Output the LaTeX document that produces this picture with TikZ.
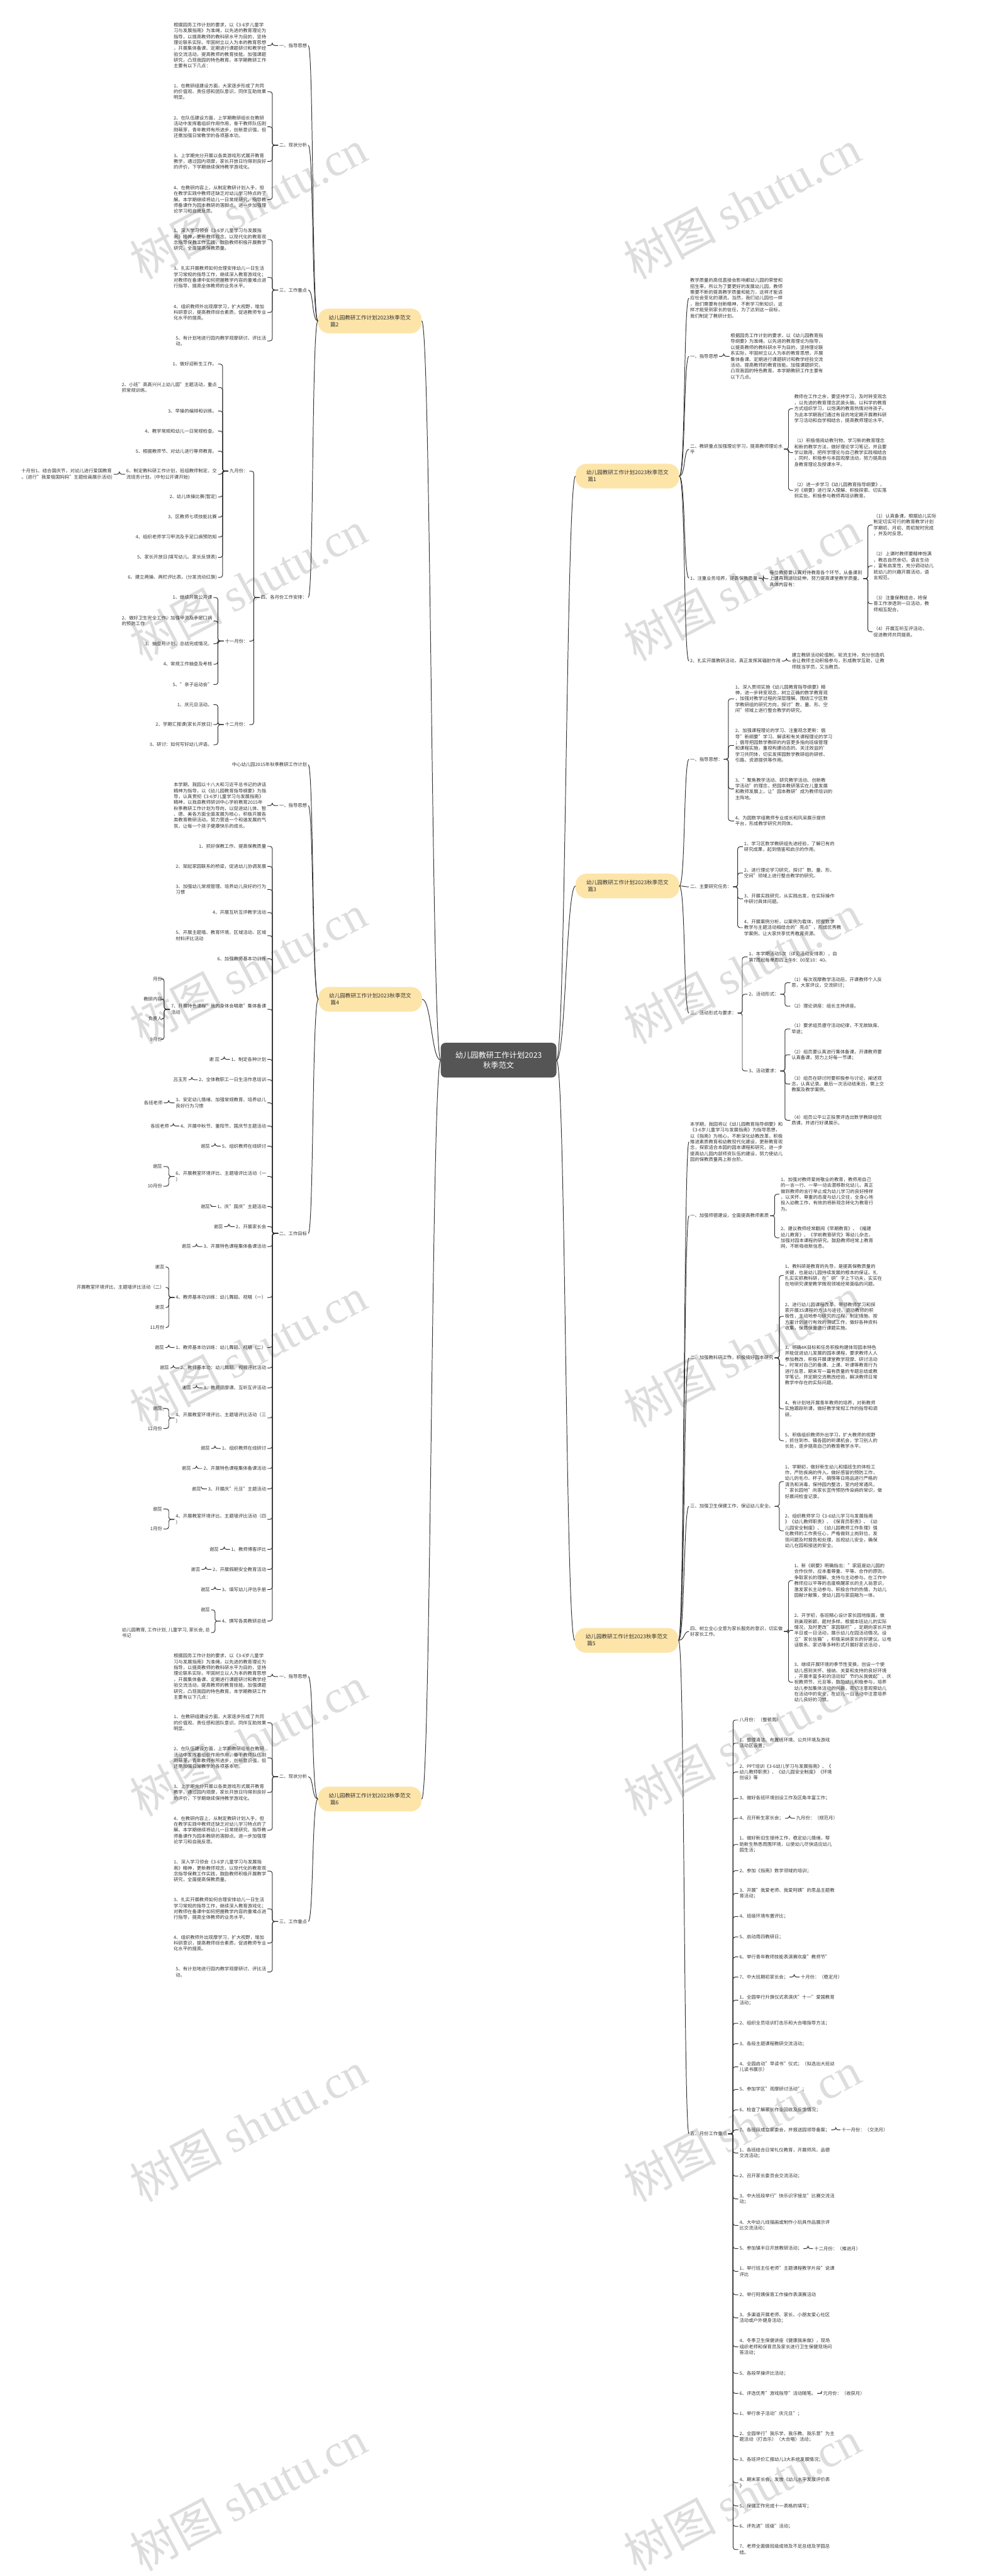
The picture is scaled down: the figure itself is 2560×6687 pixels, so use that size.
\documentclass[tikz,border=0pt]{standalone}
\usepackage{fontspec}
\setmainfont{Noto Sans CJK SC}
\newfontfamily\wmlat{Liberation Serif}
\usetikzlibrary{calc}
\definecolor{lc}{HTML}{333333}
\definecolor{tc}{HTML}{333333}
\definecolor{bf}{HTML}{FDE5AA}
\definecolor{rf}{HTML}{555555}
\definecolor{wm}{HTML}{DDDDDD}
\newcommand\tf{\fontsize{12pt}{15.3pt}\selectfont}
\tikzset{
 txt/.style={font=\tf, text=tc, inner sep=3pt, align=left},
 lftx/.style={txt, anchor=east, xshift=3pt},
 rgtx/.style={txt, anchor=west, xshift=-3pt},
 con/.style={draw=lc, line width=1.6pt, rounded corners=6pt},
 con2/.style={draw=lc, line width=1.6pt},
 bnode/.style={fill=bf, rounded corners=28pt, minimum height=64pt, inner xsep=28pt, inner ysep=6pt, font=\fontsize{14pt}{18pt}\selectfont, text=tc, align=left},
 rootn/.style={fill=rf, rounded corners=12pt, minimum width=300pt, minimum height=90pt, font=\fontsize{20pt}{26pt}\selectfont, text=white, align=center},
 wmk/.style={text=wm, rotate=28, inner sep=0pt, font=\fontsize{120pt}{120pt}\selectfont},
}
\newcommand\NL[3]{\node[lftx] (#1) at (#2) {#3};}
\newcommand\NR[3]{\node[rgtx] (#1) at (#2) {#3};}
\newcommand\BL[2]{\draw[con] (#1.west) -- ++(-15,0) |- (#2.east);}
\newcommand\BR[2]{\draw[con] (#1.east) -- ++(12,0) |- (#2.west);}
\newcommand\CL[2]{\draw[con2] (#1.west) .. controls +(-16,0) and +(14,0) .. (#2.east);}
\newcommand\CR[2]{\draw[con2] (#1.east) .. controls +(16,0) and +(-14,0) .. (#2.west);}
\newcommand\txPG{根据园务工作计划的要求，以《3-6岁儿童学\\习与发展指南》为准绳，以先进的教育理论为\\指导，以提高教师的教科研水平为目的，坚持\\理论联系实际，牢固树立以人为本的教育思想\\，开展集体备课、定期进行课题研讨和教学经\\验交流活动，提高教师的教育技能。加强课题\\研究，凸现我园的特色教育。本学期教研工作\\主要有以下几点：}
\newcommand\txSA{1、在教研组建设方面，大家逐步形成了共同\\的价值观、责任感和团队意识，同伴互助效果\\明显。}
\newcommand\txSB{2、在队伍建设方面，上学期教研组长在教研\\活动中发挥着组织作用作用，骨干教师队伍刚\\刚萌芽，青年教师有所进步，创新意识强，但\\还需加强日常教学的各项基本功。}
\newcommand\txSC{3、上学期充分开展以各类游戏形式展开教育\\教学，通过园内观摩，家长开放日均得到良好\\的评价，下学期继续保持教学游戏化。}
\newcommand\txSD{4、在教研内容上，从制定教研计划入手，但\\在教学实践中教师还缺乏对幼儿学习特点的了\\解。本学期继续将幼儿一日常规研究、指导教\\师备课作为园本教研的落脚点。进一步加强理\\论学习和自我反思。}
\newcommand\txKA{1、深入学习领会《3-6岁儿童学习与发展指\\南》精神，更新教师观念，以现代化的教育观\\念指导保教工作实践，鼓励教师积极开展教学\\研究，全面提高保教质量。}
\newcommand\txKB{3、扎实开展教师如何合理安排幼儿一日生活\\学习常规的指导工作，继续深入教育游戏化；\\对教师在备课中如何把握教学内容的重难点进\\行指导，提高全体教师的业务水平。}
\newcommand\txKC{4、组织教师外出观摩学习，扩大视野，增加\\科研意识，提高教师综合素质，促进教师专业\\化水平的提高。}
\newcommand\txKD{5、有计划地进行园内教学观摩研讨、评比活\\动。}
\begin{document}
\begin{tikzpicture}[x=1pt,y=-1pt]
\path[use as bounding box, fill=white] (0,0) rectangle (2560,6687);
% watermarks
\foreach \yy in {530,1520,2515,3510,4520,5520,6478}{
 \node[wmk] at (644,\yy) {树图 {\wmlat shutu.cn}};
 \node[wmk] at (1926,\yy) {树图 {\wmlat shutu.cn}};
}
% root and branches
\node[rootn] (root) at (1294,2752) {幼儿园教研工作计划2023\\秋季范文};
\node[bnode,anchor=east] (n1) at (1763,1236) {幼儿园教研工作计划2023秋季范文\\\hspace{4pt}篇1};
\node[bnode,anchor=west] (n2) at (825,833) {幼儿园教研工作计划2023秋季范文\\\hspace{4pt}篇2};
\node[bnode,anchor=east] (n3) at (1763,2300) {幼儿园教研工作计划2023秋季范文\\\hspace{4pt}篇3};
\node[bnode,anchor=west] (n4) at (826,2594) {幼儿园教研工作计划2023秋季范文\\\hspace{4pt}篇4};
\node[bnode,anchor=east] (n5) at (1761,4258) {幼儿园教研工作计划2023秋季范文\\\hspace{4pt}篇5};
\node[bnode,anchor=west] (n6) at (825,4670) {幼儿园教研工作计划2023秋季范文\\\hspace{4pt}篇6};
\foreach \b in {n2,n4,n6}{\draw[con2] (root.west) .. controls +(-24,0) and +(24,0) .. (\b.east);}
\foreach \b in {n1,n3,n5}{\draw[con2] (root.east) .. controls +(24,0) and +(-24,0) .. (\b.west);}

% ===== 篇2 =====
\NL{a1}{797,118}{一、指导思想}
\NL{a2}{797,377}{二、现状分析}
\NL{a3}{797,753}{三、工作重点}
\NL{a4}{797,1551}{四、各月份工作安排：}
\NL{a1p}{691,118}{\txPG}
\NL{a2a}{691,238}{\txSA}
\NL{a2b}{691,329}{\txSB}
\NL{a2c}{691,419}{\txSC}
\NL{a2d}{691,518}{\txSD}
\NL{a3a}{691,622}{\txKA}
\NL{a3b}{691,720}{\txKB}
\NL{a3c}{691,811}{\txKC}
\NL{a3d}{691,885}{\txKD}
\NL{a4a}{644,1223}{九月份：}
\NL{a4b}{644,1664}{十一月份：}
\NL{a4c}{644,1881}{十二月份：}
\NL{j1}{563,945}{1、做好迎新生工作。}
\NL{j2}{563,1006}{2、小班"高高兴兴上幼儿园"主题活动，重点\\抓常规训练。}
\NL{j3}{563,1067}{3、早操的编排和训练。}
\NL{j4}{563,1119}{4、教学常规和幼儿一日常规检查。}
\NL{j5}{563,1171}{5、根据教师节、对幼儿进行尊师教育。}
\NL{j6}{563,1231}{6、制定教科研工作计划，班组教师制定、交\\流班务计划。(中旬公开课开始)}
\NL{j6c}{292,1231}{十月份1、结合国庆节，对幼儿进行爱国教育\\。(进行"我爱祖国妈妈"主题绘画展示活动)}
\NL{j7}{563,1290}{2、幼儿体操比赛(暂定)}
\NL{j8}{563,1342}{3、区教师七项技能比赛}
\NL{j9}{563,1394}{4、组织老师学习甲流及手足口病预防知}
\NL{j10}{563,1447}{5、家长开放日(填写幼儿、家长反馈表)}
\NL{j11}{563,1499}{6、建立两操、两栏评比表。(分发流动红旗)}
\NL{k1}{551,1551}{1、继续开展公开课}
\NL{k2}{551,1612}{2、做好卫生完全工作、加强甲流及手足口病\\的预防工作}
\NL{k3}{551,1671}{3、抽查月计划、总结完成情况。}
\NL{k4}{551,1724}{4、常规工作抽查及考核}
\NL{k5}{551,1777}{5、"亲子运动会"}
\NL{m1}{551,1829}{1、庆元旦活动。}
\NL{m2}{551,1881}{2、学期汇报课(家长开放日)}
\NL{m3}{551,1933}{3、研讨：如何写好幼儿评语。}
\foreach \c in {a1,a2,a3,a4}{\CL{n2}{\c}}
\BL{a1}{a1p}
\foreach \c in {a2a,a2b,a2c,a2d}{\BL{a2}{\c}}
\foreach \c in {a3a,a3b,a3c,a3d}{\BL{a3}{\c}}
\foreach \c in {a4a,a4b,a4c}{\BL{a4}{\c}}
\foreach \c in {j1,j2,j3,j4,j5,j6,j7,j8,j9,j10,j11}{\BL{a4a}{\c}}
\BL{j6}{j6c}
\foreach \c in {k1,k2,k3,k4,k5}{\BL{a4b}{\c}}
\foreach \c in {m1,m2,m3}{\BL{a4c}{\c}}

% ===== 篇6 =====
\NL{f1}{797,4352}{一、指导思想}
\NL{f2}{797,4612}{二、现状分析}
\NL{f3}{797,4988}{三、工作重点}
\NL{f1p}{691,4352}{\txPG}
\NL{f2a}{691,4472}{\txSA}
\NL{f2b}{691,4563}{\txSB}
\NL{f2c}{691,4653}{\txSC}
\NL{f2d}{691,4751}{\txSD}
\NL{f3a}{691,4857}{\txKA}
\NL{f3b}{691,4955}{\txKB}
\NL{f3c}{691,5044}{\txKC}
\NL{f3d}{691,5119}{\txKD}
\foreach \c in {f1,f2,f3}{\CL{n6}{\c}}
\BL{f1}{f1p}
\foreach \c in {f2a,f2b,f2c,f2d}{\BL{f2}{\c}}
\foreach \c in {f3a,f3b,f3c,f3d}{\BL{f3}{\c}}

% ===== 篇4 =====
\NL{d0}{797,1985}{中心幼儿园2015年秋季教研工作计划}
\NL{d1}{797,2091}{一、指导思想}
\NL{d2}{797,3202}{二、工作目标}
\NL{d1p}{691,2091}{本学期，我园以十八大和习近平总书记的讲话\\精神为指导，以《幼儿园教育指导纲要》为指\\导，认真贯彻《3-6岁儿童学习与发展指南》\\精神，以我县教师研训中心学前教育2015年\\秋季教研工作计划为导向，以促进幼儿体、智\\、德、美各方面全面发展为核心，积极开展各\\类教育教研活动。努力营造一个和谐发展的气\\氛，让每一个孩子健康快乐的成长。}
\NL{g1}{691,2197}{1、抓好保教工作、提高保教质量}
\NL{g2}{691,2249}{2、架起家园联系的桥梁，促进幼儿协调发展}
\NL{g3}{691,2309}{3、加强幼儿常规管理、培养幼儿良好的行为\\习惯}
\NL{g4}{691,2369}{4、开展互听互评教学活动}
\NL{g5}{691,2429}{5、开展主题墙、教育环境、区域活动、区域\\材料评比活动}
\NL{g6}{691,2489}{6、加强教师基本功训练}
\NL{g7}{691,2620}{7、开展特色课程"我的身体会唱歌"集体备课\\活动}
\NL{g8}{691,2750}{1、制定各种计划}
\NL{g9}{691,2803}{2、全体教职工一日生活作息培训}
\NL{g10}{691,2863}{3、安定幼儿情绪、加强常规教育、培养幼儿\\良好行为习惯}
\NL{g11}{691,2923}{4、开展中秋节、重阳节、国庆节主题活动}
\NL{g12}{691,2975}{5、组织教师在线研讨}
\NL{g13}{691,3054}{6、开展教室环境评比、主题墙评比活动（一\\）}
\NL{g14}{691,3132}{1、庆"国庆"主题活动}
\NL{g15}{691,3184}{2、开展家长会}
\NL{g16}{691,3236}{3、开展特色课程集体备课活动}
\NL{g17}{691,3368}{4、教师基本功训练：幼儿舞蹈、视唱（一）}
\NL{g18}{691,3498}{1、教师基本功训练：幼儿舞蹈、视唱（二）}
\NL{g19}{691,3551}{2、教师基本功：幼儿舞蹈、视唱评比活动}
\NL{g20}{691,3603}{3、教师观摩课、互听互评活动}
\NL{g21}{691,3681}{4、开展教室环境评比、主题墙评比活动（三\\）}
\NL{g22}{691,3760}{1、组织教师在线研讨}
\NL{g23}{691,3812}{2、开展特色课程集体备课活动}
\NL{g24}{691,3865}{3、开展庆"元旦"主题活动}
\NL{g25}{691,3944}{4、开展教室环境评比、主题墙评比活动（四\\）}
\NL{g26}{691,4022}{1、教师博客评比}
\NL{g27}{691,4074}{2、开展假期安全教育活动}
\NL{g28}{691,4126}{3、填写幼儿评估手册}
\NL{g29}{691,4208}{4、撰写各类教研总结}
\NL{g7a}{421,2541}{月份}
\NL{g7b}{421,2594}{教研内容}
\NL{g7c}{421,2645}{负责人}
\NL{g7d}{421,2698}{9月份}
\NL{g8c}{570,2750}{谢 蕊}
\NL{g9c}{486,2803}{吕玉芳}
\NL{g10c}{422,2863}{各班老师}
\NL{g11c}{439,2923}{各班老师}
\NL{g12c}{545,2975}{谢蕊}
\NL{g13a}{421,3028}{谢蕊}
\NL{g13b}{421,3079}{10月份}
\NL{g14c}{545,3132}{谢蕊}
\NL{g15c}{579,3184}{谢蕊}
\NL{g16c}{496,3236}{谢蕊}
\NL{g17a}{427,3289}{谢蕊}
\NL{g17b}{427,3342}{开展教室环境评比、主题墙评比活动（二）}
\NL{g17c}{427,3394}{谢蕊}
\NL{g17d}{427,3446}{11月份}
\NL{g18c}{426,3498}{谢蕊}
\NL{g19c}{439,3551}{谢蕊}
\NL{g20c}{497,3603}{谢蕊}
\NL{g21a}{421,3656}{谢蕊}
\NL{g21b}{421,3708}{12月份}
\NL{g22c}{545,3760}{谢蕊}
\NL{g23c}{496,3812}{谢蕊}
\NL{g24c}{522,3865}{谢蕊}
\NL{g25a}{421,3917}{谢蕊}
\NL{g25b}{421,3969}{1月份}
\NL{g26c}{568,4022}{谢蕊}
\NL{g27c}{520,4074}{谢蕊}
\NL{g28c}{545,4126}{谢蕊}
\NL{g29a}{545,4179}{谢蕊}
\NL{g29b}{545,4238}{幼儿园教育, 工作计划, 儿童学习, 家长会, 总\\书记}
\foreach \c in {d0,d1,d2}{\CL{n4}{\c}}
\BL{d1}{d1p}
\foreach \c in {g1,g2,g3,g4,g5,g6,g7,g8,g9,g10,g11,g12,g13,g14,g15,g16,g17,g18,g19,g20,g21,g22,g23,g24,g25,g26,g27,g28,g29}{\BL{d2}{\c}}
\foreach \c in {g7a,g7b,g7c,g7d}{\BL{g7}{\c}}
\BL{g8}{g8c}\BL{g9}{g9c}\BL{g10}{g10c}\BL{g11}{g11c}\BL{g12}{g12c}
\BL{g13}{g13a}\BL{g13}{g13b}
\BL{g14}{g14c}\BL{g15}{g15c}\BL{g16}{g16c}
\foreach \c in {g17a,g17b,g17c,g17d}{\BL{g17}{\c}}
\BL{g18}{g18c}\BL{g19}{g19c}\BL{g20}{g20c}
\BL{g21}{g21a}\BL{g21}{g21b}
\BL{g22}{g22c}\BL{g23}{g23c}\BL{g24}{g24c}
\BL{g25}{g25a}\BL{g25}{g25b}
\BL{g26}{g26c}\BL{g27}{g27c}\BL{g28}{g28c}
\BL{g29}{g29a}\BL{g29}{g29b}

% ===== 篇1 =====
\NR{b0}{1791,774}{教学质量的高低直接会影响都幼儿园的荣誉和\\招生率，所以为了要更好的发展幼儿园，教师\\需要不断的提高教学质量和能力，这样才能适\\应社会变化的潮流，当然，我们幼儿园也一样\\，我们需要有创新精神，不断学习新知识，这\\样才能受到家长的信任，为了达到这一目标，\\我们制定了教研计划。}
\NR{b1}{1791,925}{一、指导思想}
\NR{b1p}{1896,925}{根据园务工作计划的要求，以《幼儿园教育指\\导纲要》为准绳，以先进的教育理论为指导，\\以提高教师的教科研水平为目的，坚持理论联\\系实际，牢固树立以人为本的教育思想，开展\\集体备课、定期进行课题研讨和教学经验交流\\活动，提高教师的教育技能。加强课题研究，\\凸现我园的特色教育。本学期教研工作主要有\\以下几点。}
\NR{b2}{1791,1166}{二、教研重点加强理论学习，提高教师理论水\\平}
\NR{b2a}{2061,1061}{教师在工作之余，要坚持学习，及时转变观念\\，以先进的教育理念武装头脑，以科学的教育\\方式组织学习，以饱满的教育热情对待孩子。\\为此本学期我们通过有目的地定期开展教科研\\学习活动和自学相结合，提高教师理论水平。}
\NR{b2b}{2061,1175}{（1）积极借阅幼教刊物，学习新的教育理念\\和新的教学方法，做好理论学习笔记，并且要\\学以致用，把所学理论与自己教学实践相结合\\，同时，积极参与本园观摩活动，努力提高自\\身教育理论及授课水平。}
\NR{b2c}{2061,1273}{（2）进一步学习《幼儿园教育指导纲要》，\\对《纲要》进行深入理解、积极探索、切实落\\到实处。积极参与教师再培训教育。}
\NR{b3}{1791,1501}{1、注重业务培养，提高保教质量}
\NR{b3p}{1997,1502}{每位教师要认真对待教育各个环节，从备课到\\上课再到活动延伸，努力提高课堂教学质量。\\具体内容有：}
\NR{b3a}{2267,1363}{（1）认真备课，根据幼儿实际\\制定切实可行的教育教学计划\\学期初、月初、周初按时完成\\，并及时反思。}
\NR{b3b}{2267,1469}{（2）上课时教师要精神饱满\\，教态自然亲切，语言生动\\，富有启发性，充分调动幼儿\\就幼儿的兴趣开展活动，语\\言规范。}
\NR{b3c}{2267,1567}{（3）注重保教结合，将保\\育工作渗透到一日活动，教\\师相互配合。}
\NR{b3d}{2267,1640}{（4）开展互听互评活动，\\促进教师共同提高。}
\NR{b4}{1791,1716}{2、扎实开展教研活动，真正发挥其辐射作用}
\NR{b4p}{2055,1716}{建立教研活动轮值制。轮流主持，充分创造机\\会让教师主动积极参与，形成教学互助，让教\\师既当学员，又当教员。}
\foreach \c in {b0,b1,b2,b3,b4}{\CR{n1}{\c}}
\BR{b1}{b1p}
\foreach \c in {b2a,b2b,b2c}{\BR{b2}{\c}}
\BR{b3}{b3p}
\foreach \c in {b3a,b3b,b3c,b3d}{\BR{b3p}{\c}}
\BR{b4}{b4p}

% ===== 篇3 =====
\NR{c1}{1791,1971}{一、指导思想：}
\NR{c2}{1791,2302}{二、主要研究任务：}
\NR{c3}{1791,2630}{三、活动形式与要求：}
\NR{c11}{1908,1814}{1、深入贯彻实施《幼儿园教育指导纲要》精\\神，进一步转变观念，树立正确的数学教育观\\，加强对教学过程的深层理解。围绕江宁区数\\学教研组的研究方向，探讨"数、量、形、空\\间"领域上进行整合教学的研究。}
\NR{c12}{1908,1935}{2、加强课程理论的学习、注重观念更新：倡\\导"新纲要"学习、解读和有关课程理论的学习\\；倡导把园数学教研的内容更多指向班级管理\\和课程实施，重视构建动态的、关注效益的'\\学习共同体，切实发挥园数学教研组的研修、\\引路、资源提供等作用。}
\NR{c13}{1908,2048}{3、"聚焦教学活动、研究教学活动、创新教\\学活动"的理念，把园本教研落实在儿童发展\\和教师发展上，让"园本教研"成为教师培训的\\主阵地。}
\NR{c14}{1908,2131}{4、为园数学组教师专业成长和风采展示提供\\平台，形成教学研究共同体。}
\NR{c21}{1931,2198}{1、学习区数学教研组先进经验，了解已有的\\研究成果，起到借鉴和启示的作用。}
\NR{c22}{1931,2266}{2、进行理论学习研究，探讨"数、量、形、\\空间"领域上进行整合教学的研究。}
\NR{c23}{1931,2333}{3、开展实践研究，从实践出发，在实际操作\\中研讨具体问题。}
\NR{c24}{1931,2408}{4、开展案例分析，以案例为载体，挖掘数学\\教学与主题活动相结合的"亮点"，形成优秀教\\学案例，让大家共享优秀教育资源。}
\NR{c31}{1943,2484}{1、本学期活动5次（详见活动安排表），自\\第7周起每单周四上午9：00至10：40。}
\NR{c32}{1943,2581}{2、活动形式：}
\NR{c33}{1943,2780}{3、活动要求：}
\NR{c32a}{2054,2551}{（1）每次观摩教学活动后，开课教师个人反\\思，大家评议，交流研讨；}
\NR{c32b}{2054,2612}{（2）理论讲座：组长主持讲座。}
\NR{c33a}{2054,2671}{（1）要求组员遵守活动纪律，不无故缺席、\\早退；}
\NR{c33b}{2054,2738}{（2）组员要认真进行集体备课，开课教师要\\认真备课，努力上好每一节课；}
\NR{c33c}{2054,2814}{（3）组员在研讨时要积极参与讨论，阐述观\\念，认真记录。最后一次活动结束后，需上交\\教案及教学案例。}
\NR{c33d}{2054,2908}{（4）组员公平公正投票评选出数学教研组优\\质课，并进行好课展示。}
\foreach \c in {c1,c2,c3}{\CR{n3}{\c}}
\foreach \c in {c11,c12,c13,c14}{\BR{c1}{\c}}
\foreach \c in {c21,c22,c23,c24}{\BR{c2}{\c}}
\foreach \c in {c31,c32,c33}{\BR{c3}{\c}}
\foreach \c in {c32a,c32b}{\BR{c32}{\c}}
\foreach \c in {c33a,c33b,c33c,c33d}{\BR{c33}{\c}}

% ===== 篇5 =====
\NR{e0}{1791,2964}{本学期，我园将以《幼儿园教育指导纲要》和\\《3-6岁儿童学习与发展指南》为指导思想，\\以《指南》为核心，不断深化幼教改革，积极\\推进素质教育和幼教现代化建设，更新教育观\\念，探索适合本园的园本课程和研究，进一步\\提高幼儿园内部师资队伍的建设，努力使幼儿\\园的保教质量再上新台阶。}
\NR{e1}{1791,3156}{一、加强师德建设，全面提高教师素质}
\NR{e2}{1791,3525}{二、加强教科研工作，积极搞好园本研究}
\NR{e3}{1791,3910}{三、加强卫生保健工作，保证幼儿安全。}
\NR{e4}{1791,4235}{四、树立全心全意为家长服务的意识，切实做\\好家长工作。}
\NR{e5}{1791,5539}{五、月份工作重点}
\NR{e1a}{2026,3100}{1、加强对教师爱岗敬业的教育，教师用自己\\的一言一行、一举一动去潜移默化幼儿，真正\\做到教师的言行举止成为幼儿学习的良好榜样\\，以关怀、尊重的态度与幼儿交往，全身心地\\投入幼教工作，有效的将新观念转化为教育行\\为。}
\NR{e1b}{2026,3213}{2、建议教师经常翻阅《早期教育》、《福建\\幼儿教育》、《学前教育研究》等幼儿杂志，\\加强对园本课程的研究。鼓励教师经常上教育\\网，不断吸收新信息。}
\NR{e2a}{2037,3311}{1、教科研是教育的先导，是提高保教质量的\\关键，也是幼儿园持续发展的根本的保证。扎\\扎实实抓教科研，在"研"字上下功夫，实实在\\在地研究课堂教学微观领域经常面临的问题。}
\NR{e2b}{2037,3417}{2、进行幼儿园课程改革，带领教师学习和探\\索开展3S课程的方法与途径。调动教师的积\\极性，主动地参与研究的过程，制定措施、按\\方案计划进行有效的测试工作，做好各种资料\\收集，保质保量进行课题实施。}
\NR{e2c}{2037,3544}{3、明确4K目标和任务积极构建体现园本特色\\并能促进幼儿发展的园本课程，要求教师人人\\参加教改，积极开展课堂教学观摩、研讨活动\\，时常对自己的备课、上课、听课等教育行为\\进行反思，期末写一篇有质量的专题总结或教\\学笔记，并定期交流教改经验，解决教师日常\\教学中存在的实际问题。}
\NR{e2d}{2037,3657}{4、有计划地开展青年教师的培养，对新教师\\实施跟踪听课，做好教学常规工作的指导和调\\研。}
\NR{e2e}{2037,3740}{5、积极组织教师外出学习，扩大教师的视野\\，抓住到市、镇各园的听课机会，学习别人的\\长处，逐步提高自己的教育教学水平。}
\NR{e3a}{2037,3846}{1、学期初，做好新生幼儿和插班生的体检工\\作，严防疾病的传入。做好感冒的预防工作，\\幼儿的毛巾、杯子、碗筷等日用品进行严格的\\清洗和消毒，保持园内整洁，室内经常通风，\\"家长园地"向家长宣传预防传染病的常识，做\\好晨间检查记录。}
\NR{e3b}{2037,3974}{2、组织教师学习《3-6幼儿学习与发展指南\\》《幼儿教师职责》、《保育员职责》、《幼\\儿园安全制度》、《幼儿园教师工作条理》强\\化教师的工作责任心，严格做到上岗到位，发\\现问题及时报告和处理，巡视幼儿安全，确保\\幼儿在园和接送的安全。}
\NR{e4a}{2061,4103}{1、新《纲要》明确指出："家庭是幼儿园的\\合作伙伴，应本着尊重、平等、合作的原则，\\争取家长的理解、支持与主动参与。在工作中\\教师应以平等的态度唤醒家长的主人翁意识，\\激发家长主动参与、积极合作的热情，为幼儿\\园献计献策，使幼儿园与家庭融为一体。}
\NR{e4b}{2061,4232}{2、开学初，各班精心设计家长园地版面，做\\到美观新颖，题材多样。根据本班幼儿的实际\\情况，及时更改"家园联栏"。定期向家长开放\\半日或一日活动，展示幼儿在园活动情况。设\\立"家长信箱"，积极采纳家长的好建议。以电\\话联系、家访等多种形式开展好家访活动 。}
\NR{e4c}{2061,4367}{3、继续开展环境的季节性变换，创设一个使\\幼儿感到关怀、接纳、关爱和支持的良好环境\\，开展丰富多彩的活动如"节约从我做起"、庆\\祝教师节、元旦等，鼓励幼儿积极参与，培养\\幼儿参加集体活动的兴趣，密切注意观察幼儿\\在活动中的安全，在幼儿一日活动中注意培养\\幼儿良好的习惯。}
\NR{mo1}{1919,4465}{八月份：（整顿周）}
\NR{mo2}{1919,4525}{1、整理清洁、布置班环境、公共环境及游戏\\活动区设置；}
\NR{mo3}{1919,4600}{2、PPT培训《3-6幼儿学习与发展指南》、《\\幼儿教师职责》、《幼儿园安全制度》《环境\\创设》等}
\NR{mo4}{1919,4668}{3、做好各班环境创设工作及区角丰富工作；}
\NR{mo5}{1919,4720}{4、召开新生家长会；}
\NR{mo6}{1919,4788}{1、做好新旧生接待工作，稳定幼儿情绪，帮\\助新生熟悉周围环境，以使幼儿尽快适应幼儿\\园生活；}
\NR{mo7}{1919,4856}{2、参加《指南》数学领域的培训；}
\NR{mo8}{1919,4915}{3、开展"我爱老师、我爱阿姨"的思品主题教\\育活动；}
\NR{mo9}{1919,4975}{4、班级环境布置评比；}
\NR{mo10}{1919,5028}{5、启动周四教研日；}
\NR{mo11}{1919,5080}{6、举行青年教师技能表演赛欢度"教师节"}
\NR{mo12}{1919,5132}{7、中大班期初家长会；}
\NR{mo13}{1919,5192}{1、全园举行升旗仪式表演庆"十一"爱国教育\\活动；}
\NR{mo14}{1919,5252}{2、组织全员培训打击乐和大合唱指导方法；}
\NR{mo15}{1919,5305}{3、各段主题课程教研交流活动；}
\NR{mo16}{1919,5365}{4、全园启动"早读书"仪式；（拟选出大班幼\\儿读书展示）}
\NR{mo17}{1919,5424}{5、参加学区"观摩研讨活动"；}
\NR{mo18}{1919,5477}{6、检查了解家长作业回收及反馈情况；}
\NR{mo19}{1919,5529}{7、各班段成立家委会，并报送园领导备案；}
\NR{mo20}{1919,5589}{1、各班结合日常礼仪教育，开展师风、品德\\交流活动；}
\NR{mo21}{1919,5649}{2、召开家长委员会交流活动；}
\NR{mo22}{1919,5708}{3、中大班段举行"快乐识字接龙"比赛交流活\\动；}
\NR{mo23}{1919,5777}{4、大中幼儿线描画或制作小玩具作品展示评\\比交流活动；}
\NR{mo24}{1919,5837}{5、参加镇半日开放教研活动；}
\NR{mo25}{1919,5896}{1、举行班主任老师"主题课程教学片段"说课\\评比}
\NR{mo26}{1919,5957}{2、举行阿姨保育工作操作表演赛活动}
\NR{mo27}{1919,6017}{3、多渠道开展老师、家长、小朋友爱心社区\\活动或户外健身活动；}
\NR{mo28}{1919,6092}{4、冬季卫生保健讲座《健康我来做》，现场\\组织老师和保育员及家长进行卫生保健现场问\\答活动；}
\NR{mo29}{1919,6161}{5、各段早操评比活动；}
\NR{mo30}{1919,6213}{6、评选优秀"游戏指导"活动随笔。}
\NR{mo31}{1919,6266}{1、举行亲子活动"庆元旦"；}
\NR{mo32}{1919,6325}{2、全园举行"我乐学、我乐教、我乐意"为主\\题活动（打击乐）（大合唱）活动；}
\NR{mo33}{1919,6385}{3、各班评价汇报幼儿3大系统发展情况；}
\NR{mo34}{1919,6445}{4、期末家长会、发放《幼儿水平发展评价表\\》}
\NR{mo35}{1919,6505}{5、保健工作完成十一表格的填写；}
\NR{mo36}{1919,6558}{6、评先进"班级"活动；}
\NR{mo37}{1919,6618}{7、老师全面做班级成效及不足总结及学园总\\结。}
\NR{mo5c}{2066,4720}{九月份：（规范月）}
\NR{mo12c}{2078,5132}{十月份：（稳定月）}
\NR{mo19c}{2184,5529}{十一月份：（交流月）}
\NR{mo24c}{2113,5837}{十二月份：（推进月）}
\NR{mo30c}{2136,6213}{元月份：（收获月）}
\foreach \c in {e0,e1,e2,e3,e4,e5}{\CR{n5}{\c}}
\foreach \c in {e1a,e1b}{\BR{e1}{\c}}
\foreach \c in {e2a,e2b,e2c,e2d,e2e}{\BR{e2}{\c}}
\foreach \c in {e3a,e3b}{\BR{e3}{\c}}
\foreach \c in {e4a,e4b,e4c}{\BR{e4}{\c}}
\foreach \i in {1,...,37}{\BR{e5}{mo\i}}
\BR{mo5}{mo5c}\BR{mo12}{mo12c}\BR{mo19}{mo19c}\BR{mo24}{mo24c}\BR{mo30}{mo30c}
\end{tikzpicture}
\end{document}
